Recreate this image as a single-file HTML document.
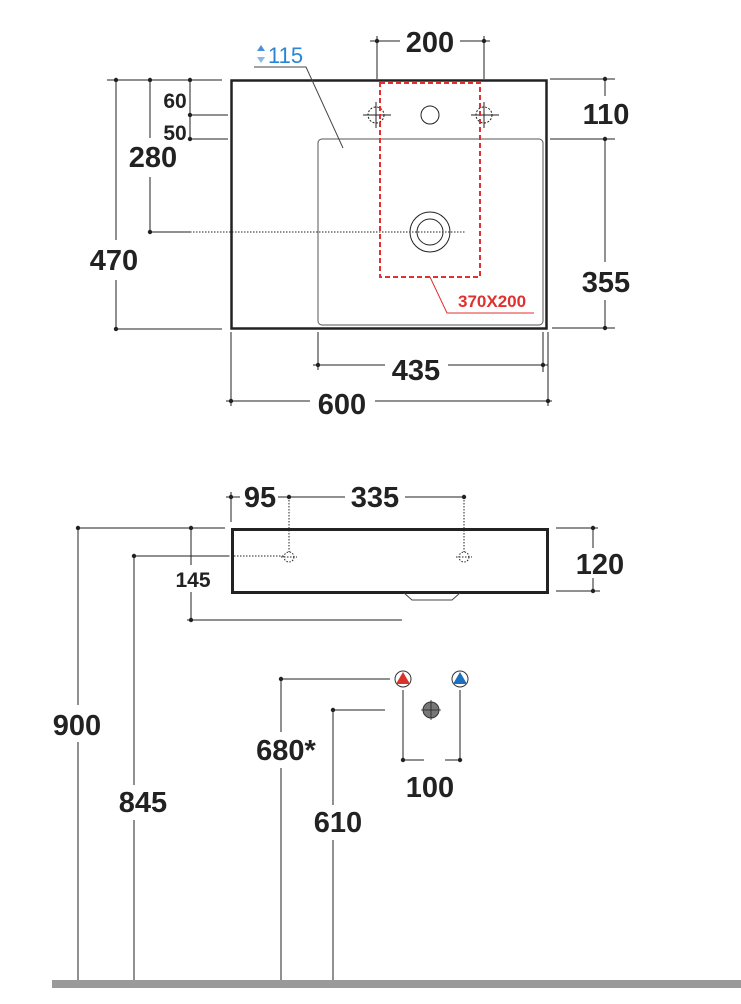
<!DOCTYPE html>
<html><head><style>
html,body{margin:0;padding:0;background:#fff;}
svg{display:block;}
text{font-family:"Liberation Sans",sans-serif;font-weight:bold;fill:#222;}
</style></head><body>
<svg width="741" height="1004" viewBox="0 0 741 1004" xmlns="http://www.w3.org/2000/svg">
<g stroke="#222" stroke-width="1" fill="none">
<!-- top view -->
<rect x="231.5" y="80.5" width="315" height="248" stroke-width="2.5"/>
<rect x="318" y="139" width="225" height="186" rx="4" stroke="#555"/>
<circle cx="430" cy="115" r="9"/>
<circle cx="430" cy="232" r="20"/>
<circle cx="430" cy="232" r="13"/>
<line x1="190" y1="232" x2="465" y2="232" stroke-dasharray="1.5,1.5"/>
<line x1="150" y1="232" x2="190" y2="232"/>
<!-- taps -->
<circle cx="376" cy="115" r="8" stroke-dasharray="2,1.5"/>
<line x1="363" y1="115" x2="391" y2="115"/><line x1="376" y1="102" x2="376" y2="128"/>
<circle cx="484" cy="115" r="8" stroke-dasharray="2,1.5"/>
<line x1="471" y1="115" x2="499" y2="115"/><line x1="484" y1="102" x2="484" y2="128"/>
<!-- red dashed -->
<rect x="380" y="83" width="100" height="194" stroke="#e03030" stroke-width="2" stroke-dasharray="5,3"/>
<polyline points="430,277 447,313 534,313" stroke="#e03030"/>
<!-- 115 leader -->
<polyline points="254,67 306,67 343,148" stroke="#444"/>
<!-- 200 -->
<line x1="377" y1="36" x2="377" y2="79"/><line x1="484" y1="36" x2="484" y2="79"/>
<line x1="370" y1="41" x2="400" y2="41"/><line x1="460" y1="41" x2="490" y2="41"/>
<!-- left dims -->
<line x1="107" y1="80" x2="222" y2="80"/><line x1="116" y1="329" x2="222" y2="329"/>
<line x1="116" y1="80" x2="116" y2="240"/><line x1="116" y1="280" x2="116" y2="329"/>
<line x1="150" y1="80" x2="150" y2="138"/><line x1="150" y1="177" x2="150" y2="232"/>
<line x1="190" y1="80" x2="190" y2="139"/>
<line x1="190" y1="115" x2="228" y2="115"/><line x1="190" y1="139" x2="228" y2="139"/>
<!-- right dims -->
<line x1="550" y1="79" x2="615" y2="79"/><line x1="550" y1="139" x2="615" y2="139"/><line x1="552" y1="328" x2="615" y2="328"/>
<line x1="605" y1="79" x2="605" y2="96"/><line x1="605" y1="139" x2="605" y2="262"/><line x1="605" y1="300" x2="605" y2="328"/>
<!-- bottom dims -->
<line x1="318" y1="332" x2="318" y2="370"/><line x1="543" y1="332" x2="543" y2="372"/>
<line x1="231" y1="332" x2="231" y2="406"/><line x1="548" y1="332" x2="548" y2="406"/>
<line x1="313" y1="365" x2="385" y2="365"/><line x1="448" y1="365" x2="548" y2="365"/>
<line x1="226" y1="401" x2="310" y2="401"/><line x1="375" y1="401" x2="552" y2="401"/>
<!-- side view -->
<rect x="232.5" y="529.5" width="315" height="63" stroke-width="3"/>
<polyline points="404,593 412,600 452,600 460,593" stroke="#444"/>
<line x1="231" y1="492" x2="231" y2="522"/>
<line x1="226" y1="497" x2="240" y2="497"/><line x1="278" y1="497" x2="345" y2="497"/><line x1="405" y1="497" x2="464" y2="497"/>
<line x1="289" y1="497" x2="289" y2="552" stroke-dasharray="1.5,1.5"/>
<line x1="464" y1="497" x2="464" y2="552" stroke-dasharray="1.5,1.5"/>
<circle cx="289" cy="557" r="5" stroke-dasharray="1.5,1.5"/><line x1="281" y1="557" x2="297" y2="557" stroke-dasharray="1.5,1.5"/>
<circle cx="464" cy="557" r="5" stroke-dasharray="1.5,1.5"/><line x1="456" y1="557" x2="472" y2="557" stroke-dasharray="1.5,1.5"/>
<line x1="78" y1="528" x2="225" y2="528"/>
<line x1="78" y1="528" x2="78" y2="705"/><line x1="78" y1="742" x2="78" y2="985"/>
<line x1="134" y1="556" x2="228" y2="556"/><line x1="228" y1="556" x2="284" y2="556" stroke-dasharray="1.5,1.5"/>
<line x1="134" y1="556" x2="134" y2="785"/><line x1="134" y1="820" x2="134" y2="985"/>
<line x1="191" y1="528" x2="191" y2="565"/><line x1="191" y1="592" x2="191" y2="621"/>
<line x1="187" y1="620" x2="402" y2="620"/>
<line x1="556" y1="528" x2="598" y2="528"/><line x1="556" y1="591" x2="600" y2="591"/>
<line x1="593" y1="528" x2="593" y2="548"/><line x1="593" y1="578" x2="593" y2="591"/>
<!-- valves -->
<line x1="281" y1="679" x2="390" y2="679"/>
<line x1="281" y1="679" x2="281" y2="732"/><line x1="281" y1="768" x2="281" y2="985"/>
<line x1="333" y1="710" x2="385" y2="710"/>
<line x1="333" y1="710" x2="333" y2="805"/><line x1="333" y1="840" x2="333" y2="985"/>
<line x1="403" y1="690" x2="403" y2="760"/><line x1="460" y1="690" x2="460" y2="760"/>
<line x1="403" y1="760" x2="424" y2="760"/><line x1="445" y1="760" x2="460" y2="760"/>
</g>
<!-- tick dots -->
<g fill="#222">
<circle cx="377" cy="41" r="2.2"/><circle cx="484" cy="41" r="2.2"/>
<circle cx="116" cy="80" r="2.2"/><circle cx="116" cy="329" r="2.2"/>
<circle cx="150" cy="80" r="2.2"/><circle cx="150" cy="232" r="2.2"/>
<circle cx="190" cy="80" r="2.2"/><circle cx="190" cy="115" r="2.2"/><circle cx="190" cy="139" r="2.2"/>
<circle cx="605" cy="79" r="2.2"/><circle cx="605" cy="139" r="2.2"/><circle cx="605" cy="328" r="2.2"/>
<circle cx="318" cy="365" r="2.2"/><circle cx="543" cy="365" r="2.2"/>
<circle cx="231" cy="401" r="2.2"/><circle cx="548" cy="401" r="2.2"/>
<circle cx="231" cy="497" r="2.2"/><circle cx="289" cy="497" r="2.2"/><circle cx="464" cy="497" r="2.2"/>
<circle cx="78" cy="528" r="2.2"/><circle cx="134" cy="556" r="2.2"/>
<circle cx="191" cy="528" r="2.2"/><circle cx="191" cy="620" r="2.2"/>
<circle cx="593" cy="528" r="2.2"/><circle cx="593" cy="591" r="2.2"/>
<circle cx="281" cy="679" r="2.2"/><circle cx="333" cy="710" r="2.2"/>
<circle cx="403" cy="760" r="2.2"/><circle cx="460" cy="760" r="2.2"/>
</g>
<!-- valve symbols -->
<circle cx="403" cy="679" r="8" fill="#fff" stroke="#333"/>
<polygon points="403,672 396,684 410,684" fill="#d9332a"/>
<circle cx="460" cy="679" r="8" fill="#fff" stroke="#333"/>
<polygon points="460,672 453,684 467,684" fill="#1d6fc0"/>
<circle cx="431" cy="710" r="8" fill="#777" stroke="#333"/>
<line x1="431" y1="700" x2="431" y2="720" stroke="#222" stroke-width="0.8"/>
<line x1="421" y1="710" x2="441" y2="710" stroke="#222" stroke-width="0.8"/>
<!-- floor -->
<rect x="52" y="980" width="689" height="8" fill="#9a9a9a"/>
<!-- 115 blue -->
<polygon points="261,45 257,51 265,51" fill="#4a90d9"/><polygon points="261,63 257,57 265,57" fill="#8bb8e8"/>
<text x="268" y="63" font-size="22" style="fill:#2a86d4;font-weight:normal">115</text>
<text x="458" y="307" font-size="17" style="fill:#e03030">370X200</text>
<!-- labels -->
<g font-size="29">
<text x="430" y="52" text-anchor="middle">200</text>
<text x="114" y="270" text-anchor="middle">470</text>
<text x="153" y="167" text-anchor="middle">280</text>
<text x="606" y="124" text-anchor="middle">110</text>
<text x="606" y="292" text-anchor="middle">355</text>
<text x="416" y="380" text-anchor="middle">435</text>
<text x="342" y="414" text-anchor="middle">600</text>
<text x="375" y="507" text-anchor="middle">335</text>
<text x="260" y="507" text-anchor="middle">95</text>
<text x="600" y="574" text-anchor="middle">120</text>
<text x="77" y="735" text-anchor="middle">900</text>
<text x="143" y="812" text-anchor="middle">845</text>
<text x="286" y="760" text-anchor="middle">680*</text>
<text x="338" y="832" text-anchor="middle">610</text>
<text x="430" y="797" text-anchor="middle">100</text>
</g>
<g font-size="21">
<text x="175" y="108" text-anchor="middle">60</text>
<text x="175" y="140" text-anchor="middle">50</text>
<text x="193" y="587" text-anchor="middle">145</text>
</g>
</svg>
</body></html>
